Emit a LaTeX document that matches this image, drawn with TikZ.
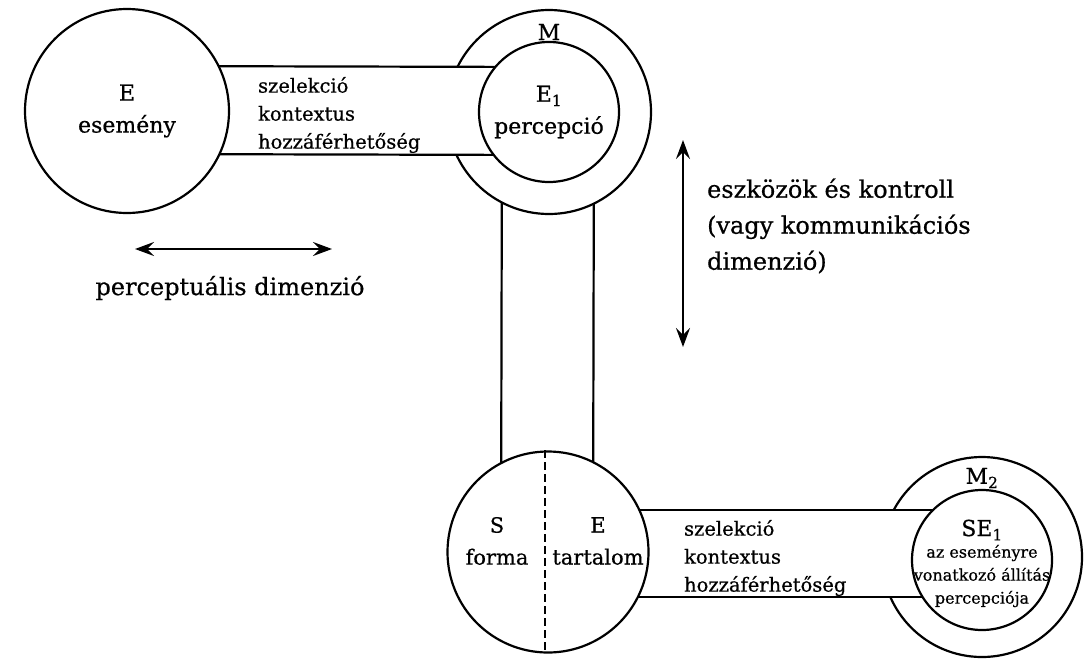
\documentclass[tikz,border=0pt]{standalone}
\usepackage{fontspec}
\setmainfont[FakeBold=0.6]{DejaVu Serif}
\usetikzlibrary{calc,arrows.meta}
\begin{document}
\begin{tikzpicture}[x=1pt,y=-1pt,line width=2.2pt,
  bigc/.style={circle,draw,fill=white,minimum size=204pt,inner sep=0pt},
  innc/.style={circle,draw,fill=white,minimum size=140pt,inner sep=0pt},
  lbl/.style={font=\fontsize{22}{32}\selectfont,align=center,inner sep=0pt},
  bandtxt/.style={font=\fontsize{19.5}{28}\selectfont,align=left,inner sep=0pt,anchor=west},
  dimtxt/.style={font=\fontsize{24}{36}\selectfont,align=left,inner sep=0pt},
  smalltxt/.style={font=\fontsize{16}{23}\selectfont,align=center,inner sep=0pt},
  dimarrow/.style={{Stealth[length=19pt,width=14pt,inset=7pt]}-{Stealth[length=19pt,width=14pt,inset=7pt]},line width=2.2pt}]
\useasboundingbox (0,0) rectangle (1091,659);
% centres
\coordinate (cE) at (127,111);
\coordinate (cM) at (549,112);
\coordinate (cS) at (548,552);
\coordinate (cM2) at (982,557);
% vertical band
\draw ($(cM)+(-47,0)$) -- ($(cS)+(-47,0)$);
\draw ($(cM)+(45,0)$) -- ($(cS)+(45,0)$);
% outer rings
\node[bigc] (M) at (cM) {};
\node[bigc,minimum size=200pt] (M2) at (cM2) {};
% top band
\fill[white] ($(cE)+(0,-45)$) rectangle ($(cM)+(0,43)$);
\draw ($(cE)+(0,-45)$) -- ($(cM)+(0,-45)$);
\draw ($(cE)+(0,43)$) -- ($(cM)+(0,43)$);
% bottom band
\fill[white] ($(cS)+(0,-42)$) rectangle ($(cM2)+(0,40)$);
\draw ($(cS)+(0,-42)$) -- ($(cM2)+(0,-47)$);
\draw ($(cS)+(0,45)$) -- ($(cM2)+(0,40)$);
% circles on top
\node[bigc,lbl] (E) at (cE) {E\\esemény};
\node[bigc,minimum size=201pt] (S) at (cS) {};
\draw[line width=2.2pt,dash pattern=on 8pt off 4pt] (S.north) ++(-3,0) -- ($(S.south)+(-3,0)$);
\node[innc,lbl] (E1) at (cM) {E\textsubscript{1}\\percepció};
\node[innc] (SE1) at ($(cM2)+(0,3)$) {};
% labels
\node[lbl] (Mlbl) at (549,32) {M};
\node[lbl] (M2lbl) at (982,478) {M\textsubscript{2}};
\node[bandtxt] (t1) at (257,115) {szelekció\\kontextus\\hozzáférhetőség};
\node[bandtxt] (t2) at (683,558) {szelekció\\kontextus\\hozzáférhetőség};
\node[lbl,font=\fontsize{21}{32}\selectfont] (Sf) at (497,541) {S\\forma};
\node[lbl,font=\fontsize{21}{32}\selectfont] (Et) at (598,541) {E\\tartalom};
\node[lbl] (SEt) at (982,530) {SE\textsubscript{1}};
\node[smalltxt] (SEd) at (982,576) {az eseményre\\vonatkozó állítás\\percepciója};
% dimensions
\coordinate (h1) at (135,249);
\coordinate (h2) at (332,249);
\draw[dimarrow] (h1) -- (h2);
\node[dimtxt] (pd) at (230,288) {perceptuális dimenzió};
\coordinate (v1) at (683,140);
\coordinate (v2) at (683,347);
\draw[dimarrow] (v1) -- (v2);
\node[dimtxt,anchor=west] (kd) at (706,226) {eszközök és kontroll\\(vagy kommunikációs\\dimenzió)};
\end{tikzpicture}
\end{document}
